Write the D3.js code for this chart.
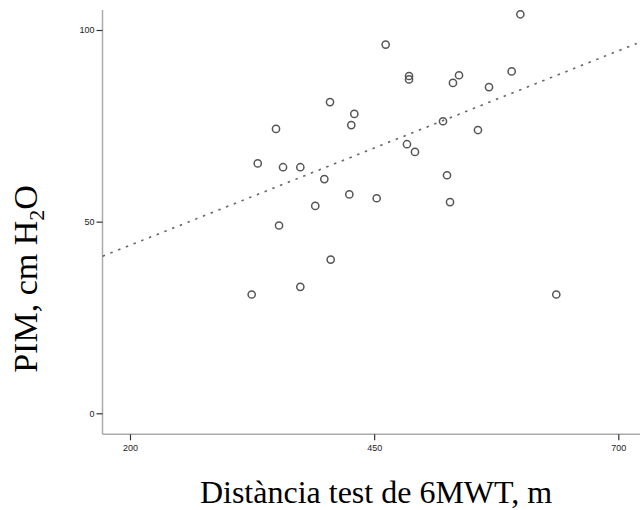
<!DOCTYPE html>
<html><head><meta charset="utf-8">
<script src="https://cdn.jsdelivr.net/npm/d3@7"></script>
<style>body{margin:0;background:#fff}svg{display:block}</style>
</head><body>
<svg id="c" width="640" height="510"></svg>
<script>
const distance = [324.6,330.8,349.5,352.6,356.7,374.4,374.4,389.7,399.0,404.8,405.5,424.6,426.6,429.7,452.6,461.8,483.6,485.7,485.7,491.8,520.5,524.6,527.7,530.7,536.9,556.3,567.6,590.8,599.7,636.5];
const pim      = [31.0,65.2,74.2,49.0,64.2,64.2,33.0,54.1,61.1,81.2,40.1,57.1,75.2,78.1,56.1,96.2,70.2,88.0,87.1,68.2,76.2,62.1,55.1,86.2,88.2,73.9,85.1,89.2,104.1,31.0];
const fitX = [172, 719];
const fitY = [41.0, 96.5];
const xTicks = [200, 450, 700];
const yTicks = [0, 50, 100];
const xTitle = "Distància test de 6MWT, m";

const svg = d3.select("#c");
const L = 102.5, R = 640, T = 10, B = 434.3;
const x = d3.scaleLinear().domain([200, 700]).range([130, 618.3]);
const y = d3.scaleLinear().domain([0, 100]).range([413.3, 30]);

// axes lines
svg.append("line").attr("x1",L).attr("x2",L).attr("y1",T).attr("y2",B)
  .attr("stroke","#aaa").attr("stroke-width",1.5);
svg.append("line").attr("x1",L).attr("x2",R).attr("y1",B).attr("y2",B)
  .attr("stroke","#aaa").attr("stroke-width",1.5);

const yAx = svg.append("g").attr("transform",`translate(${L},0)`)
  .call(d3.axisLeft(y).tickValues(yTicks).tickSize(6).tickPadding(2));
const xAx = svg.append("g").attr("transform",`translate(0,${B})`)
  .call(d3.axisBottom(x).tickValues(xTicks).tickSize(6).tickPadding(4));
[yAx,xAx].forEach(g=>{
  g.select(".domain").remove();
  g.selectAll(".tick line").attr("stroke","#333").attr("stroke-width",1.2);
  g.selectAll(".tick text").attr("fill","#222").style("font-family","Liberation Sans, Arial, sans-serif").style("font-size","9px");
});

// fit line
svg.append("line")
  .attr("x1",x(fitX[0])).attr("y1",y(fitY[0]))
  .attr("x2",x(fitX[1])).attr("y2",y(fitY[1]))
  .attr("stroke","#666").attr("stroke-width",1.6)
  .attr("stroke-dasharray","2.5,5.8");

// points
svg.append("g").selectAll("circle").data(distance.map((d,i)=>[d,pim[i]])).join("circle")
  .attr("cx",d=>x(d[0])).attr("cy",d=>y(d[1])).attr("r",3.6)
  .attr("fill","none").attr("stroke","#555").attr("stroke-width",1.5);

// titles
svg.append("text").attr("x",376).attr("y",503).attr("text-anchor","middle")
  .style("font-family","Liberation Serif, Times New Roman, serif").style("font-size","32px")
  .attr("fill","#000").text(xTitle);

const yt = svg.append("text").attr("transform","translate(37,279) rotate(-90)")
  .attr("text-anchor","middle")
  .style("font-family","Liberation Serif, Times New Roman, serif").style("font-size","34px")
  .attr("fill","#000");
yt.append("tspan").text("PIM, cm H");
yt.append("tspan").attr("dy",7).style("font-size","22px").text("2");
yt.append("tspan").attr("dy",-7).text("O");
</script>
</body></html>
